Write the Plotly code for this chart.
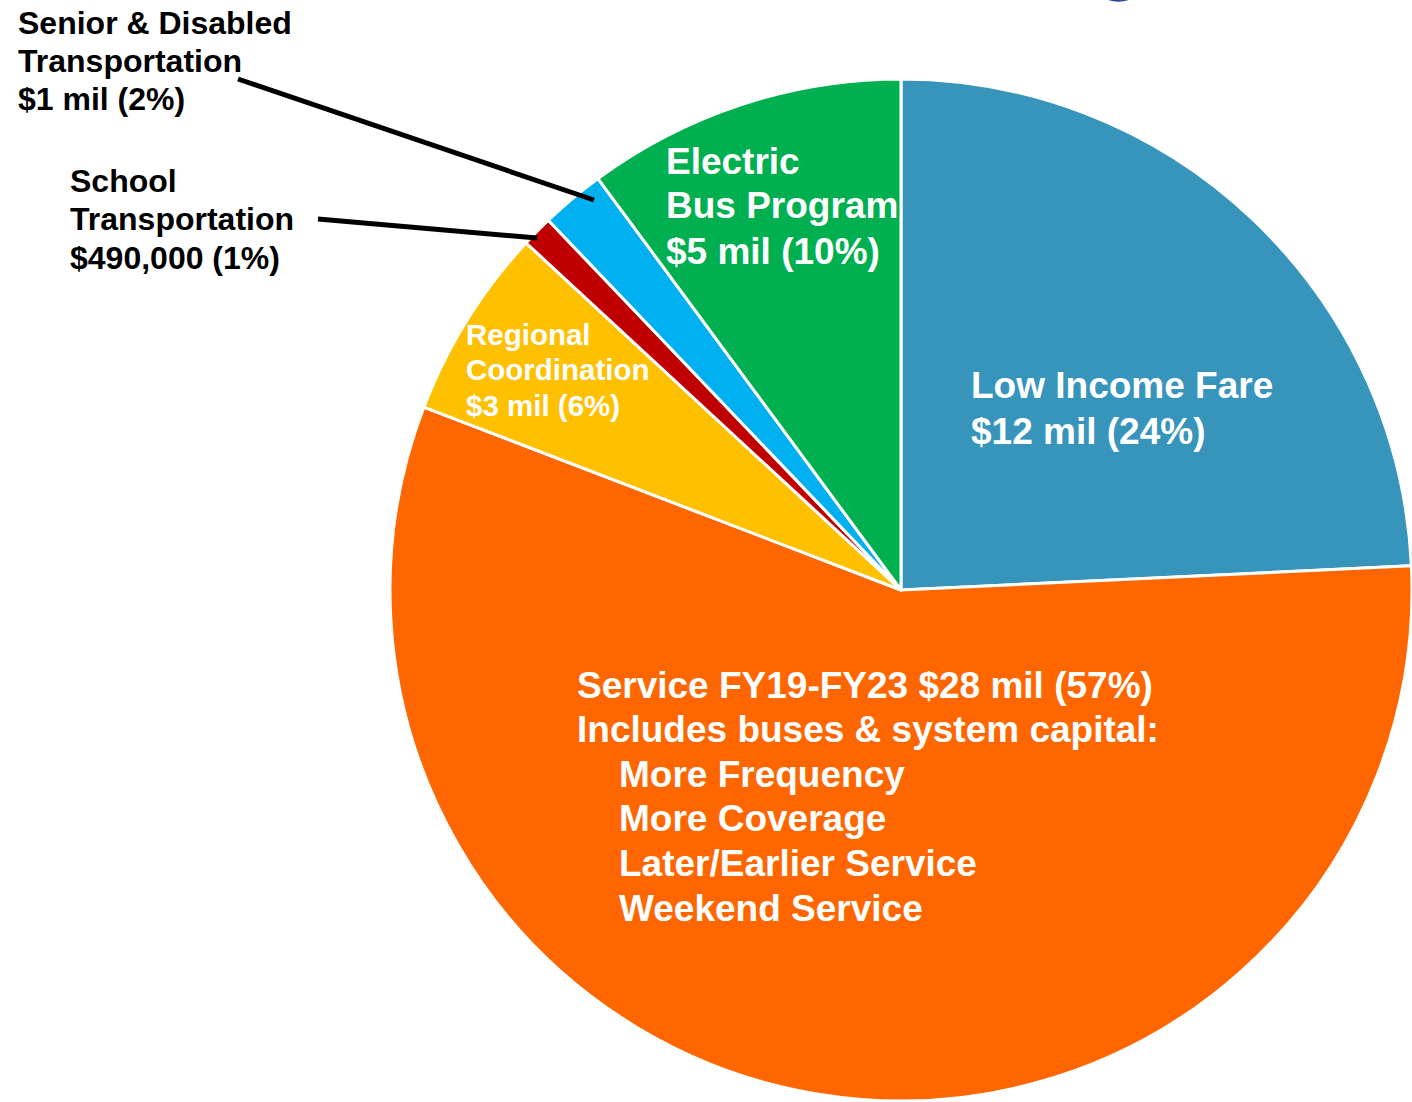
import plotly.graph_objects as go

W, H = 1412, 1102

# Data (clockwise from 12 o'clock)
categories = ["Low Income Fare", "Service FY19-FY23", "Regional Coordination",
              "School Transportation", "Senior & Disabled Transportation",
              "Electric Bus Program"]
values_mil = [12, 28, 3, 0.49, 1, 5]
colors = ["#3795BB", "#FF6600", "#FFC000", "#C00000", "#00B0F0", "#00B050"]

FONT = "Arial, 'Liberation Sans', sans-serif"

def px(x):
    return x / W

def py(y):
    return 1 - y / H

fig = go.Figure()
fig.add_trace(go.Pie(
    labels=categories,
    values=values_mil,
    sort=False,
    direction="clockwise",
    rotation=0,
    textinfo="none",
    hoverinfo="label+value+percent",
    marker=dict(colors=colors, line=dict(color="white", width=3)),
    domain=dict(x=[px(390), 1.0], y=[0.0, py(78)]),
    showlegend=False,
))

# text blocks: (lines, left x, first line y, line spacing, size, color)
blocks = [
    (["Low Income Fare", "$12 mil (24%)"], [969, 969], 386, 45, 37, "white"),
    (["Service FY19-FY23 $28 mil (57%)", "Includes buses & system capital:",
      "More Frequency", "More Coverage", "Later/Earlier Service", "Weekend Service"],
     [575, 575, 617, 617, 617, 617], 685, 44.6, 37, "white"),
    (["Electric", "Bus Program", "$5 mil (10%)"], [664, 664, 664], 161, 45, 37, "white"),
    (["Regional", "Coordination", "$3 mil (6%)"], [464, 464, 464], 334, 35.5, 29.5, "white"),
    (["Senior & Disabled", "Transportation", "$1 mil (2%)"], [16, 16, 16], 23, 38, 32, "black"),
    (["School", "Transportation", "$490,000 (1%)"], [68, 68, 68], 181, 38.5, 32, "black"),
]

annotations = []
for lines, xs, y0, dy, size, col in blocks:
    for i, (t, x) in enumerate(zip(lines, xs)):
        annotations.append(dict(
            text="<b>" + t.replace("&", "&amp;").replace("$", "&#36;") + "</b>",
            x=px(x), y=py(y0 + i * dy), xref="paper", yref="paper",
            xanchor="left", yanchor="middle", showarrow=False,
            font=dict(family=FONT, size=size, color=col),
        ))

shapes = [
    # callout lines
    dict(type="line", xref="paper", yref="paper",
         x0=px(238), y0=py(79), x1=px(594), y1=py(200),
         line=dict(color="black", width=5)),
    dict(type="line", xref="paper", yref="paper",
         x0=px(318), y0=py(219), x1=px(537), y1=py(238),
         line=dict(color="black", width=5)),
    # fragment of cropped header graphic at top edge
    dict(type="path", xref="paper", yref="paper",
         path=f"M {px(1108)} {py(0)} Q {px(1118)} {py(3.5)} {px(1129)} {py(0)} Z",
         fillcolor="#2A4A9E", line=dict(width=0)),
]

fig.update_layout(
    width=W, height=H,
    margin=dict(l=0, r=0, t=0, b=0),
    paper_bgcolor="white", plot_bgcolor="white",
    annotations=annotations,
    shapes=shapes,
)

fig.write_html(
    "out.html",
    config={"displayModeBar": False},
    post_script="document.body.style.margin='0';document.body.style.overflow='hidden';",
)
